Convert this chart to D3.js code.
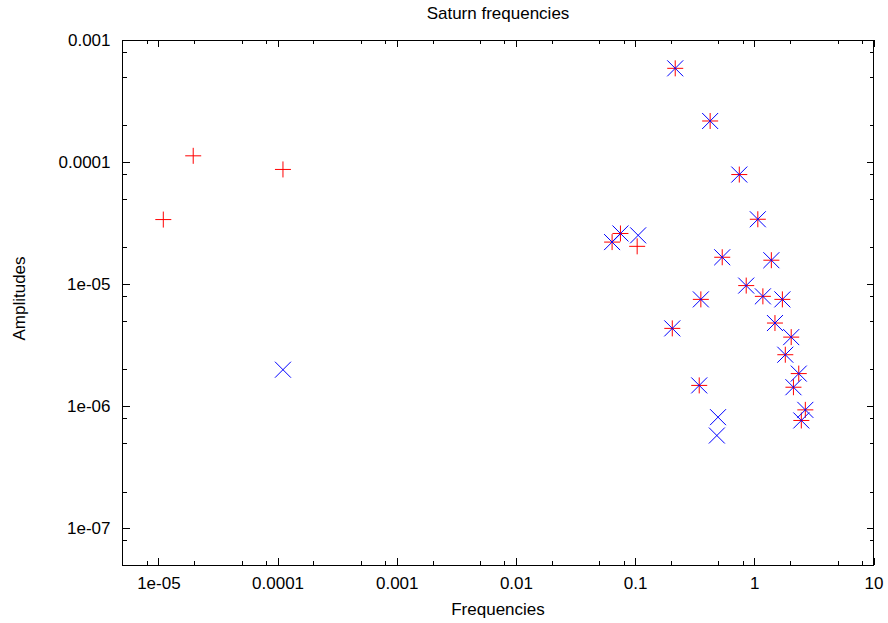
<!DOCTYPE html>
<html>
<head>
<meta charset="utf-8">
<script src="https://cdn.jsdelivr.net/npm/d3@7"></script>
<style>
  html, body { margin: 0; padding: 0; background: #fff; }
  svg { display: block; }
  text { font-family: "Liberation Sans", Arial, Helvetica, sans-serif; fill: #000; }
</style>
</head>
<body>
<svg id="chart" width="888" height="623"></svg>
<script>
// ---- data ----
const chartTitle = "Saturn frequencies";
const xLabel = "Frequencies";
const yLabel = "Amplitudes";

const redFreq = [1.10e-5, 1.96e-5, 1.11e-4, 0.0641, 0.0753, 0.104, 0.205, 0.217, 0.345, 0.356,
                 0.426, 0.538, 0.748, 0.855, 1.07, 1.18, 1.39, 1.49, 1.72, 1.82,
                 2.04, 2.13, 2.36, 2.48, 2.68];
const redAmp  = [3.38e-5, 1.125e-4, 8.7e-5, 2.21e-5, 2.6e-5, 2.04e-5, 4.34e-6, 5.86e-4, 1.48e-6, 7.5e-6,
                 2.17e-4, 1.66e-5, 7.9e-5, 9.73e-6, 3.4e-5, 7.94e-6, 1.57e-5, 4.8e-6, 7.5e-6, 2.64e-6,
                 3.68e-6, 1.43e-6, 1.85e-6, 7.64e-7, 9.33e-7];

const blueFreq = [1.11e-4, 0.0641, 0.0753, 0.106, 0.205, 0.217, 0.345, 0.356, 0.426, 0.485,
                  0.496, 0.538, 0.748, 0.855, 1.07, 1.18, 1.39, 1.49, 1.72, 1.82,
                  2.04, 2.13, 2.36, 2.48, 2.68];
const blueAmp  = [1.99e-6, 2.21e-5, 2.6e-5, 2.51e-5, 4.34e-6, 5.86e-4, 1.48e-6, 7.5e-6, 2.17e-4, 5.75e-7,
                  8.13e-7, 1.66e-5, 7.9e-5, 9.73e-6, 3.4e-5, 7.94e-6, 1.57e-5, 4.8e-6, 7.5e-6, 2.64e-6,
                  3.68e-6, 1.43e-6, 1.85e-6, 7.64e-7, 9.33e-7];

const xTickValues = [1e-5, 1e-4, 1e-3, 1e-2, 1e-1, 1, 10];
const xTickLabels = ["1e-05", "0.0001", "0.001", "0.01", "0.1", "1", "10"];
const yTickValues = [1e-7, 1e-6, 1e-5, 1e-4, 1e-3];
const yTickLabels = ["1e-07", "1e-06", "1e-05", "0.0001", "0.001"];
const minorFactors = [2, 5, 8];

// ---- layout ----
const L = 122.5, R = 873.5, T = 40, B = 565;
const svg = d3.select("#chart");

const x = d3.scaleLog().domain([5e-6, 10]).range([L, R]);
const y = d3.scaleLog().domain([5e-8, 1e-3]).range([B, T]);

function minorTicks(scale) {
  const [d0, d1] = scale.domain();
  const out = [];
  for (let e = Math.floor(Math.log10(d0)) - 1; e <= Math.ceil(Math.log10(d1)); e++) {
    minorFactors.forEach(f => {
      const v = f * Math.pow(10, e);
      if (v > d0 && v < d1) out.push(v);
    });
  }
  return out;
}
const xMinor = minorTicks(x), yMinor = minorTicks(y);

const FS = 17;
function styleAxis(g) {
  g.select(".domain").remove();
  g.selectAll("line").attr("stroke", "#000").attr("stroke-width", 1).attr("shape-rendering", "crispEdges");
  g.selectAll("text").style("font-size", FS + "px").attr("fill", "#000");
}

// bottom
svg.append("g").attr("transform", `translate(0,${B})`)
  .call(d3.axisBottom(x).tickValues(xTickValues).tickSize(-7).tickPadding(12)
        .tickFormat((d, i) => xTickLabels[i]))
  .call(styleAxis);
svg.append("g").attr("transform", `translate(0,${B})`)
  .call(d3.axisBottom(x).tickValues(xMinor).tickSize(-4).tickFormat(""))
  .call(styleAxis);
// top
svg.append("g").attr("transform", `translate(0,${T})`)
  .call(d3.axisTop(x).tickValues(xTickValues).tickSize(-7).tickFormat(""))
  .call(styleAxis);
svg.append("g").attr("transform", `translate(0,${T})`)
  .call(d3.axisTop(x).tickValues(xMinor).tickSize(-4).tickFormat(""))
  .call(styleAxis);
// left
svg.append("g").attr("transform", `translate(${L},0)`)
  .call(d3.axisLeft(y).tickValues(yTickValues).tickSize(-7).tickPadding(12)
        .tickFormat((d, i) => yTickLabels[i]))
  .call(styleAxis);
svg.append("g").attr("transform", `translate(${L},0)`)
  .call(d3.axisLeft(y).tickValues(yMinor).tickSize(-4).tickFormat(""))
  .call(styleAxis);
// right
svg.append("g").attr("transform", `translate(${R},0)`)
  .call(d3.axisRight(y).tickValues(yTickValues).tickSize(-7).tickFormat(""))
  .call(styleAxis);
svg.append("g").attr("transform", `translate(${R},0)`)
  .call(d3.axisRight(y).tickValues(yMinor).tickSize(-4).tickFormat(""))
  .call(styleAxis);

// frame
svg.append("rect").attr("x", L).attr("y", T).attr("width", R - L).attr("height", B - T)
  .attr("fill", "none").attr("stroke", "#000").attr("stroke-width", 1).attr("shape-rendering", "crispEdges");

// title & labels
svg.append("text").attr("x", (L + R) / 2).attr("y", 19).attr("text-anchor", "middle")
  .style("font-size", FS + "px").text(chartTitle);
svg.append("text").attr("x", (L + R) / 2).attr("y", 615).attr("text-anchor", "middle")
  .style("font-size", FS + "px").text(xLabel);
svg.append("text").attr("transform", `translate(25,${(T + B) / 2 - 4}) rotate(-90)`)
  .attr("text-anchor", "middle").style("font-size", FS + "px").text(yLabel);

// points
const S = 8;
const red = redFreq.map((f, i) => ({ f, a: redAmp[i] }));
const blue = blueFreq.map((f, i) => ({ f, a: blueAmp[i] }));

svg.append("g").selectAll("path").data(red).join("path")
  .attr("d", d => {
    const cx = x(d.f), cy = y(d.a);
    return `M${cx - S},${cy}H${cx + S}M${cx},${cy - S}V${cy + S}`;
  })
  .attr("stroke", "#ff0000").attr("stroke-width", 1).attr("fill", "none");

svg.append("g").selectAll("path").data(blue).join("path")
  .attr("d", d => {
    const cx = x(d.f), cy = y(d.a);
    return `M${cx - S},${cy - S}L${cx + S},${cy + S}M${cx - S},${cy + S}L${cx + S},${cy - S}`;
  })
  .attr("stroke", "#0000ff").attr("stroke-width", 1).attr("fill", "none");
</script>
</body>
</html>
